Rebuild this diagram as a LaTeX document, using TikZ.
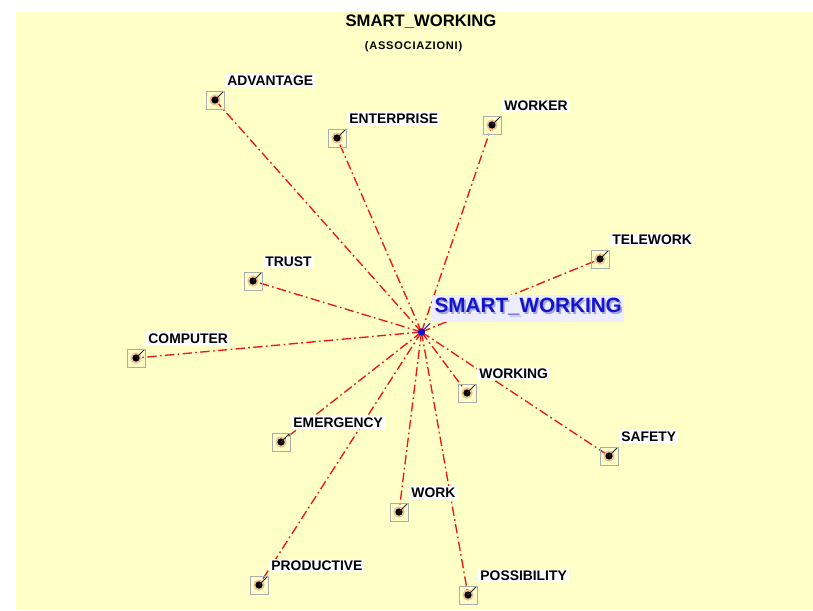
\documentclass[tikz,border=0pt]{standalone}
\usepackage{fontspec}
\setmainfont{Liberation Sans}
\usetikzlibrary{positioning,backgrounds}

\definecolor{panel}{RGB}{255,255,200}
\definecolor{linkred}{RGB}{240,20,20}
\definecolor{halo}{RGB}{240,190,150}
\definecolor{hubblue}{RGB}{20,20,205}
\definecolor{hubshadow}{RGB}{165,170,210}

\begin{document}
\begin{tikzpicture}[x=0.75pt,y=-0.75pt,
  wordbox/.style={draw=gray!65, line width=0.6pt, minimum size=13.5pt, inner sep=0pt,
    path picture={
      \fill[halo] (path picture bounding box.center) circle (4.2pt);
      \fill (path picture bounding box.center) circle (2.7pt);
      \draw[black!85, line width=0.6pt] (path picture bounding box.center) -- (path picture bounding box.north east);}},
  wordlabel/.style={fill=white, inner xsep=1.5pt, inner ysep=1.3pt, text height=7.6pt, text depth=0pt,
    font=\fontsize{10.4}{12}\selectfont\bfseries},
  link/.style={linkred, line width=1pt, dash pattern=on 7pt off 2.5pt on 1.3pt off 2.5pt},
  hub/.style={circle, fill=hubblue, minimum size=5.5pt, inner sep=0pt},
  hubbox/.style={fill=white!93!blue, inner xsep=2pt, inner ysep=2pt, text height=11.2pt, text depth=5pt,
    font=\fontsize{15.5}{18}\selectfont\bfseries},
  hubtext/.style={inner sep=0pt, text height=11.2pt, text depth=5pt, text=hubblue,
    font=\fontsize{15.5}{18}\selectfont\bfseries}]
\useasboundingbox (0,0) rectangle (813,610);

% title
\node[font=\fontsize{12.5}{15}\selectfont\bfseries, anchor=base] (title) at (421,26.7) {SMART\_WORKING};
\node[font=\fontsize{8.3}{10}\selectfont\bfseries\addfontfeature{LetterSpace=7}, anchor=base] (subtitle) at (413.5,50) {(ASSOCIAZIONI)};

% centre word
\node[hub] (hub) at (421.5,332) {};
\coordinate (hubtick) at ([shift={(6.5pt,6.5pt)}]hub.center);
\draw[hubblue, line width=0.6pt] (hub.center) -- (hubtick);

% associated words
\node[wordbox] (advantage) at (215,100) {};
\node[wordbox] (enterprise) at (337,138) {};
\node[wordbox] (worker) at (492,125) {};
\node[wordbox] (telework) at (600,259) {};
\node[wordbox] (trust) at (253,281) {};
\node[wordbox] (computer) at (136,358) {};
\node[wordbox] (working) at (467,393) {};
\node[wordbox] (emergency) at (281,442) {};
\node[wordbox] (safety) at (609,456) {};
\node[wordbox] (work) at (399,512) {};
\node[wordbox] (productive) at (259,585) {};
\node[wordbox] (possibility) at (468,595) {};

\node[wordlabel, above right=2.2pt and 0.6pt of advantage] (advantage-l) {ADVANTAGE};
\node[wordlabel, above right=2.2pt and 0.6pt of enterprise] (enterprise-l) {ENTERPRISE};
\node[wordlabel, above right=2.2pt and 0.6pt of worker] (worker-l) {WORKER};
\node[wordlabel, above right=2.2pt and 0.6pt of telework] (telework-l) {TELEWORK};
\node[wordlabel, above right=2.2pt and 0.6pt of trust] (trust-l) {TRUST};
\node[wordlabel, above right=2.2pt and 0.6pt of computer] (computer-l) {COMPUTER};
\node[wordlabel, above right=2.2pt and 0.6pt of working] (working-l) {WORKING};
\node[wordlabel, above right=2.2pt and 0.6pt of emergency] (emergency-l) {EMERGENCY};
\node[wordlabel, above right=2.2pt and 0.6pt of safety] (safety-l) {SAFETY};
\node[wordlabel, above right=2.2pt and 0.6pt of work] (work-l) {WORK};
\node[wordlabel, above right=2.2pt and 0.6pt of productive] (productive-l) {PRODUCTIVE};
\node[wordlabel, above right=2.2pt and 0.6pt of possibility] (possibility-l) {POSSIBILITY};

\node[hubbox, above right=5.2pt and 5.6pt of hub] (hub-l) {\phantom{SMART\_WORKING}};
\node[hubtext, text=hubshadow] at ([shift={(1.2pt,-1.2pt)}]hub-l.center) {SMART\_WORKING};
\node[hubtext] at (hub-l.center) {SMART\_WORKING};

% panel and links go underneath
\begin{scope}[on background layer]
\fill[panel] (16,12) rectangle (813,610);
\draw[link] (hub.center) -- (advantage.center);
\draw[link] (hub.center) -- (enterprise.center);
\draw[link] (hub.center) -- (worker.center);
\draw[link] (hub.center) -- (telework.center);
\draw[link] (hub.center) -- (trust.center);
\draw[link] (hub.center) -- (computer.center);
\draw[link] (hub.center) -- (working.center);
\draw[link] (hub.center) -- (emergency.center);
\draw[link] (hub.center) -- (safety.center);
\draw[link] (hub.center) -- (work.center);
\draw[link] (hub.center) -- (productive.center);
\draw[link] (hub.center) -- (possibility.center);
\end{scope}
\end{tikzpicture}
\end{document}
